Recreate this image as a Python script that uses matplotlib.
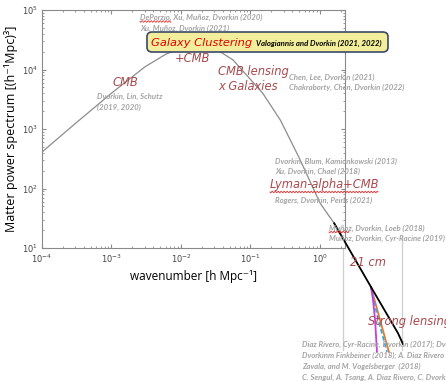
import numpy as np
import matplotlib
matplotlib.use("Agg")
import matplotlib.pyplot as plt
from matplotlib.patches import FancyBboxPatch
from matplotlib.lines import Line2D

# Linear matter power spectrum (gray curve)
k_main = [1e-4, 3e-4, 1e-3, 3e-3, 6e-3, 0.01, 0.015, 0.02, 0.03, 0.056,
          0.1, 0.15, 0.27, 0.5, 1.0, 1.6, 2.29]
P_main = [410, 1230, 4000, 1.1e4, 1.8e4, 2.3e4, 2.55e4, 2.55e4, 2.3e4, 1.45e4,
          6800, 4000, 1400, 330, 57, 26, 13]

# Small-scale continuation: CDM (black) and suppressed models
k_cdm = [1.6, 2.29, 5.42, 13.25, 15.6]
P_cdm = [26, 12.6, 2.21, 0.37, 0.244]
k_orange = [5.42, 7.3, 9.8]
P_orange = [2.21, 0.62, 0.18]
k_cyan = [5.42, 6.8, 9.2]
P_cyan = [2.21, 0.66, 0.18]
k_magenta = [5.42, 5.8, 6.2, 6.6]
P_magenta = [2.21, 1.33, 0.62, 0.18]

x_ticks = [1e-4, 1e-3, 1e-2, 1e-1, 1e0]
x_ticklabels = [r"$10^{-4}$", r"$10^{-3}$", r"$10^{-2}$", r"$10^{-1}$", r"$10^{0}$"]
y_ticks = [1e1, 1e2, 1e3, 1e4, 1e5]
y_ticklabels = [r"$10^{1}$", r"$10^{2}$", r"$10^{3}$", r"$10^{4}$", r"$10^{5}$"]

W, H = 446, 381
fig = plt.figure(figsize=(W / 100, H / 100), dpi=100)
fig.patch.set_facecolor("white")


def fx(px):
    return px / W


def fy(py):
    return 1 - py / H


frame = "#8a8a8a"
ax = fig.add_axes([fx(42), fy(248), (345 - 42) / W, (248 - 10) / H])
ax.set_xscale("log")
ax.set_yscale("log")
ax.set_xlim(1e-4, 10 ** (303 / 69.5 - 4))
ax.set_ylim(1e1, 1e5)
ax.plot(k_main, P_main, color="#8c8c8c", lw=0.9, zorder=2)
ax.plot(k_cdm, P_cdm, color="black", lw=1.3, clip_on=False, zorder=4)
ax.plot(k_orange, P_orange, color="#e8762c", lw=1.3, clip_on=False, zorder=3)
ax.plot(k_cyan, P_cyan, color="#3aa8e0", lw=1.3, ls=(0, (2.5, 1.5)),
        clip_on=False, zorder=3)
ax.plot(k_magenta, P_magenta, color="#c040e0", lw=1.3, clip_on=False, zorder=3)

ax.set_xticks(x_ticks)
ax.set_xticklabels(x_ticklabels)
ax.set_yticks(y_ticks)
ax.set_yticklabels(y_ticklabels)
ax.tick_params(which="both", direction="in", top=True, right=True,
               color=frame, labelcolor="#444444", labelsize=6, pad=3)
ax.tick_params(which="major", length=3)
ax.tick_params(which="minor", length=1.5)
for s in ax.spines.values():
    s.set_color(frame)
    s.set_linewidth(0.8)

ax.set_xlabel("wavenumber [h Mpc\u207b\u00b9]", fontsize=8.5,
              family=["Open Sans", "DejaVu Sans"], labelpad=4)
ax.set_ylabel("Matter power spectrum [(h\u207b\u00b9Mpc)\u00b3]", fontsize=9,
              family=["Open Sans", "DejaVu Sans"], labelpad=3)

# Frame of the small-scale inset
ax2 = fig.add_axes([fx(343), fy(350), (402 - 343) / W, (350 - 236) / H])
ax2.patch.set_alpha(0)
ax2.set_xticks([])
ax2.set_yticks([])
for side in ["top", "bottom"]:
    ax2.spines[side].set_visible(False)
for side in ["left", "right"]:
    ax2.spines[side].set_color("#cfcfcf")
    ax2.spines[side].set_linewidth(0.9)
ax2.set_zorder(-1)

gray = "#a3a3a3"
cite = dict(color=gray, fontsize=5.6, fontstyle="italic", fontweight="bold",
            family=["Lato", "DejaVu Sans"], ha="left", va="center")
hand = dict(color="#a84a4e", fontsize=8.3, fontstyle="oblique",
            family=["DejaVu Sans"], ha="left", va="center")

fig.text(fx(140), fy(17), "DePorzio, Xu, Mu\u00f1oz, Dvorkin (2020)", **cite)
fig.text(fx(140), fy(28), "Xu, Mu\u00f1oz, Dvorkin (2021)", **cite)

box = FancyBboxPatch((fx(147), fy(52)), (388 - 147) / W, (52 - 32) / H,
                     boxstyle="round,pad=0,rounding_size=0.012",
                     transform=fig.transFigure, facecolor="#f2ee9c",
                     edgecolor="#3c4a66", lw=1.2, zorder=5)
fig.add_artist(box)
fig.text(fx(151), fy(42.5), "Galaxy Clustering", color="#e00000", fontsize=8.2,
         fontstyle="oblique", family=["DejaVu Sans"], ha="left", va="center",
         zorder=6)
fig.text(fx(256), fy(43), "Valogiannis and Dvorkin (2021, 2022)", color="black",
         fontsize=5.6, fontstyle="italic", fontweight="bold",
         family=["Lato", "DejaVu Sans"], ha="left", va="center", zorder=6)

fig.text(fx(175), fy(58), "+CMB", **hand)
fig.text(fx(113), fy(82), "CMB", **hand)
fig.text(fx(97), fy(96), "Dvorkin, Lin, Schutz", **cite)
fig.text(fx(97), fy(107), "(2019, 2020)", **cite)

fig.text(fx(218), fy(72), "CMB lensing", **hand)
fig.text(fx(218), fy(87), "x Galaxies", **hand)
fig.text(fx(289), fy(77), "Chen, Lee, Dvorkin (2021)", **cite)
fig.text(fx(289), fy(87), "Chakraborty, Chen, Dvorkin (2022)", **cite)

fig.text(fx(275), fy(161), "Dvorkin, Blum, Kamionkowski (2013)", **cite)
fig.text(fx(275), fy(171), "Xu, Dvorkin, Chael (2018)", **cite)
fig.text(fx(270), fy(185), "Lyman-alpha+CMB", **hand)
fig.text(fx(275), fy(200), "Rogers, Dvorkin, Peiris (2021)", **cite)

fig.text(fx(329), fy(228), "Mu\u00f1oz, Dvorkin, Loeb (2018)", **cite)
fig.text(fx(329), fy(238), "Mu\u00f1oz, Dvorkin, Cyr-Racine (2019)", **cite)

fig.text(fx(350), fy(263), "21 cm", **hand)
fig.text(fx(368), fy(322), "Strong lensing", **hand)

fig.text(fx(302), fy(344), "Diaz Rivero, Cyr-Racine, Dvorkin (2017); Dvorkin", **cite)
fig.text(fx(302), fy(355), "Dvorkinm Finkbeiner (2018); A. Diaz Rivero", **cite)
fig.text(fx(302), fy(366), "Zavala, and M. Vogelsberger  (2018)", **cite)
fig.text(fx(302), fy(377), "C. Sengul, A. Tsang, A. Diaz Rivero, C. Dvorkin", **cite)


# Red wavy underlines under flagged words
def squiggle(x0, x1, y):
    xs = np.linspace(x0, x1, int((x1 - x0) * 2) + 2)
    ys = y + 0.8 * np.sin((xs - x0) * np.pi / 1.5)
    fig.add_artist(Line2D(fx(xs), fy(ys), transform=fig.transFigure,
                          color="#e03030", lw=0.6, zorder=6))


squiggle(140, 171, 21.5)
squiggle(270, 378, 192)
squiggle(329, 349, 232)

fig.savefig("out.png", dpi=100)
